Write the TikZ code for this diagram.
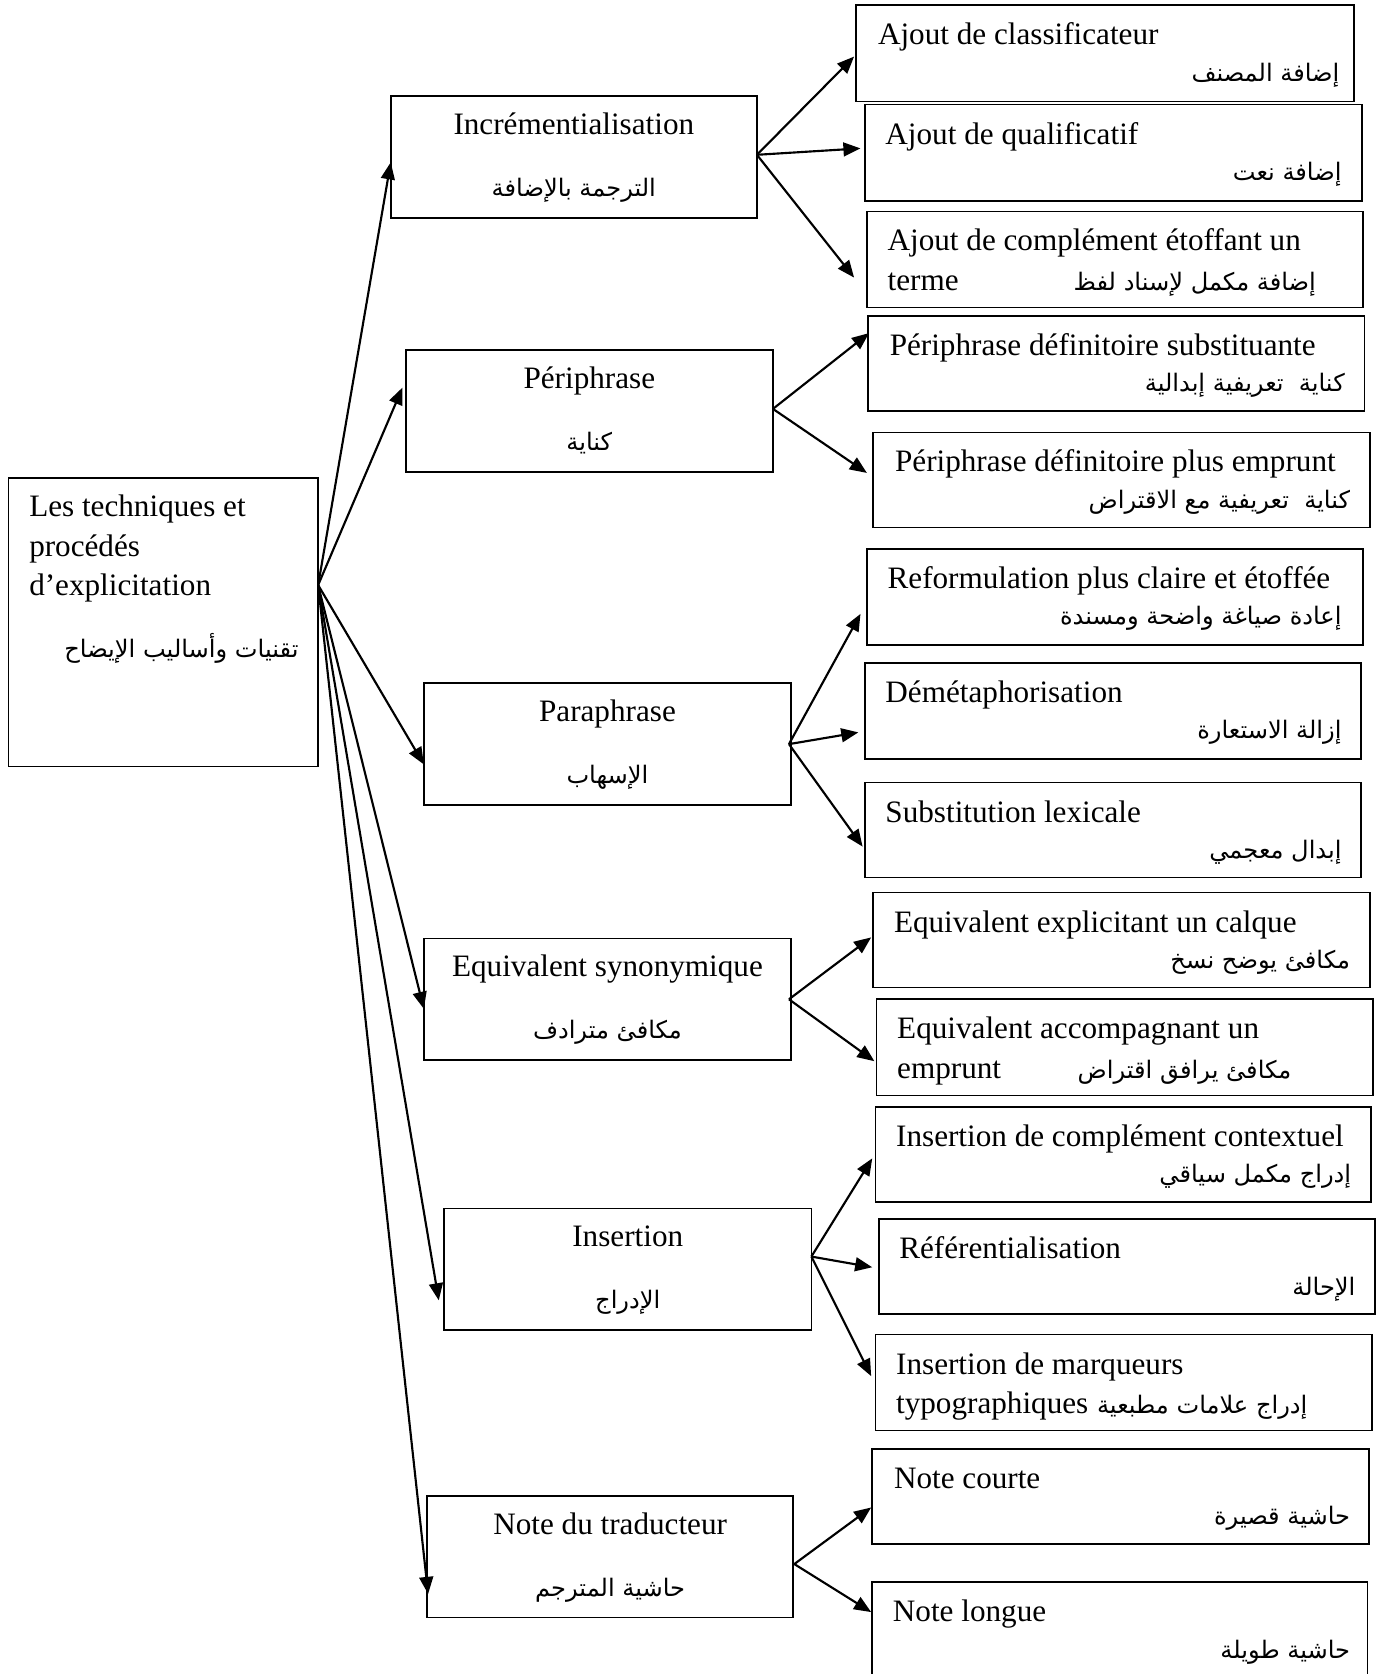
\documentclass[tikz,border=0pt]{standalone}
\usepackage{fontspec}
\setmainfont{Liberation Serif}
\newfontfamily\arfont[Script=Arabic]{DejaVu Sans}
\TeXXeTstate=1
\usetikzlibrary{arrows.meta,fit}
\begin{document}
\begin{tikzpicture}[x=0.5pt,y=-0.5pt,
  box/.style={draw, line width=0.8pt, inner sep=0pt},
  lat/.style={inner sep=0pt, font=\fontsize{14.6}{18}\selectfont},
  ar/.style={inner sep=0pt, font=\arfont\fontsize{11.3}{15}\selectfont},
  arr/.style={-{Triangle[length=8pt,width=6.5pt]}, line width=1pt}]
\useasboundingbox (0,0) rectangle (1290,1568);

% root
\node[box, fit={(8,448) (298,718)}] (root) {};
\node[lat, anchor=base west] (root1) at (27,484) {Les techniques et};
\node[lat, anchor=base west] (root2) at (27,521) {procédés};
\node[lat, anchor=base west] (root3) at (27,558) {d’explicitation};
\node[ar, anchor=base east] (rootA) at (280,616) {\beginR تقنيات وأساليب الإيضاح\endR};

% level 1
\node[box, fit={(366,90) (709,204)}] (inc) {};
\node[lat, anchor=base] (incL) at (537.5,126) {Incrémentialisation};
\node[ar, anchor=base] (incA) at (537.5,184) {\beginR الترجمة بالإضافة\endR};

\node[box, fit={(380,328) (724,442)}] (per) {};
\node[lat, anchor=base] (perL) at (552,364) {Périphrase};
\node[ar, anchor=base] (perA) at (552,422) {\beginR كناية\endR};

\node[box, fit={(397,640) (741,754)}] (para) {};
\node[lat, anchor=base] (paraL) at (569,676) {Paraphrase};
\node[ar, anchor=base] (paraA) at (569,734) {\beginR الإسهاب\endR};

\node[box, fit={(397,879) (741,993)}] (equi) {};
\node[lat, anchor=base] (equiL) at (569,915) {Equivalent synonymique};
\node[ar, anchor=base] (equiA) at (569,973) {\beginR مكافئ مترادف\endR};

\node[box, fit={(416,1132) (760,1246)}] (ins) {};
\node[lat, anchor=base] (insL) at (588,1168) {Insertion};
\node[ar, anchor=base] (insA) at (588,1226) {\beginR الإدراج\endR};

\node[box, fit={(400,1401) (743,1515)}] (note) {};
\node[lat, anchor=base] (noteL) at (571.5,1437) {Note du traducteur};
\node[ar, anchor=base] (noteA) at (571.5,1495) {\beginR حاشية المترجم\endR};

% level 2
\node[box, fit={(802,5) (1268,95)}] (a) {};
\node[lat, anchor=base west] (aL) at (822,42) {Ajout de classificateur};
\node[ar, anchor=base east] (aA) at (1255,76) {\beginR إضافة المصنف\endR};

\node[box, fit={(810,98) (1276,188)}] (b) {};
\node[lat, anchor=base west] (bL) at (829,135) {Ajout de qualificatif};
\node[ar, anchor=base east] (bA) at (1257,169) {\beginR إضافة نعت\endR};

\node[box, fit={(812,198) (1277,288)}] (c) {};
\node[lat, anchor=base west] (cL) at (831,235) {Ajout de complément étoffant un};
\node[lat, anchor=base west] (cL2) at (831,272) {terme};
\node[ar, anchor=base east] (cA) at (1233,272) {\beginR إضافة مكمل لإسناد لفظ\endR};

\node[box, fit={(813,296) (1278,385)}] (d) {};
\node[lat, anchor=base west] (dL) at (833,333) {Périphrase définitoire substituante};
\node[ar, anchor=base east] (dA) at (1260,367) {\beginR كناية\ \ تعريفية إبدالية\endR};

\node[box, fit={(818,405) (1283,494)}] (e) {};
\node[lat, anchor=base west] (eL) at (838,442) {Périphrase définitoire plus emprunt};
\node[ar, anchor=base east] (eA) at (1265,476) {\beginR كناية\ \ تعريفية مع الاقتراض\endR};

\node[box, fit={(812,514) (1277,604)}] (f) {};
\node[lat, anchor=base west] (fL) at (831,551) {Reformulation plus claire et étoffée};
\node[ar, anchor=base east] (fA) at (1257,585) {\beginR إعادة صياغة واضحة ومسندة\endR};

\node[box, fit={(810,621) (1275,711)}] (g) {};
\node[lat, anchor=base west] (gL) at (829,658) {Démétaphorisation};
\node[ar, anchor=base east] (gA) at (1257,692) {\beginR إزالة الاستعارة\endR};

\node[box, fit={(810,733) (1275,822)}] (h) {};
\node[lat, anchor=base west] (hL) at (829,770) {Substitution lexicale};
\node[ar, anchor=base east] (hA) at (1257,804) {\beginR إبدال معجمي\endR};

\node[box, fit={(818,836) (1283,925)}] (i) {};
\node[lat, anchor=base west] (iL) at (837,873) {Equivalent explicitant un calque};
\node[ar, anchor=base east] (iA) at (1265,907) {\beginR مكافئ يوضح نسخ\endR};

\node[box, fit={(821,936) (1286,1026)}] (j) {};
\node[lat, anchor=base west] (jL) at (840,973) {Equivalent accompagnant un};
\node[lat, anchor=base west] (jL2) at (840,1010) {emprunt};
\node[ar, anchor=base east] (jA) at (1210,1010) {\beginR مكافئ يرافق اقتراض\endR};

\node[box, fit={(820,1037) (1284,1126)}] (k) {};
\node[lat, anchor=base west] (kL) at (839,1074) {Insertion de complément contextuel};
\node[ar, anchor=base east] (kA) at (1266,1108) {\beginR إدراج مكمل سياقي\endR};

\node[box, fit={(823,1142) (1288,1231)}] (l) {};
\node[lat, anchor=base west] (lL) at (842,1179) {Référentialisation};
\node[ar, anchor=base east] (lA) at (1270,1213) {\beginR الإحالة\endR};

\node[box, fit={(820,1250) (1285,1340)}] (m) {};
\node[lat, anchor=base west] (mL) at (839,1287) {Insertion de marqueurs};
\node[lat, anchor=base west] (mL2) at (839,1324) {typographiques};
\node[ar, anchor=base east] (mA) at (1225,1324) {\beginR إدراج علامات مطبعية\endR};

\node[box, fit={(817,1357) (1282,1446)}] (n) {};
\node[lat, anchor=base west] (nL) at (837,1394) {Note courte};
\node[ar, anchor=base east] (nA) at (1265,1428) {\beginR حاشية قصيرة\endR};

\node[box, fit={(817,1482) (1281,1580)}] (o) {};
\node[lat, anchor=base west] (oL) at (836,1519) {Note longue};
\node[ar, anchor=base east] (oA) at (1265,1553) {\beginR حاشية طويلة\endR};

% branch points
\coordinate (rootR) at (298,548);
\coordinate (incR) at (709,145);
\coordinate (perR) at (724,383);
\coordinate (paraR) at (739,697);
\coordinate (equiR) at (739,936);
\coordinate (insR) at (760,1177);
\coordinate (noteR) at (744,1465);

% arrow tips
\coordinate (incT) at (366,152);
\coordinate (perT) at (377,363);
\coordinate (paraT) at (397,716);
\coordinate (equiT) at (397,945);
\coordinate (insT) at (411,1218);
\coordinate (noteT) at (401,1493);
\coordinate (aT) at (800,53);
\coordinate (bT) at (806,139);
\coordinate (cT) at (800,260);
\coordinate (dT) at (814,312);
\coordinate (eT) at (812,443);
\coordinate (fT) at (806,575);
\coordinate (gT) at (804,686);
\coordinate (hT) at (808,793);
\coordinate (iT) at (816,878);
\coordinate (jT) at (819,994);
\coordinate (kT) at (817,1085);
\coordinate (lT) at (817,1187);
\coordinate (mT) at (816,1289);
\coordinate (nT) at (816,1412);
\coordinate (oT) at (816,1510);

\foreach \t in {inc,per,para,equi,ins,note}
  \draw[arr] (rootR) -- (\t T);
\foreach \t in {a,b,c} \draw[arr] (incR) -- (\t T);
\foreach \t in {d,e} \draw[arr] (perR) -- (\t T);
\foreach \t in {f,g,h} \draw[arr] (paraR) -- (\t T);
\foreach \t in {i,j} \draw[arr] (equiR) -- (\t T);
\foreach \t in {k,l,m} \draw[arr] (insR) -- (\t T);
\foreach \t in {n,o} \draw[arr] (noteR) -- (\t T);
\end{tikzpicture}
\end{document}
